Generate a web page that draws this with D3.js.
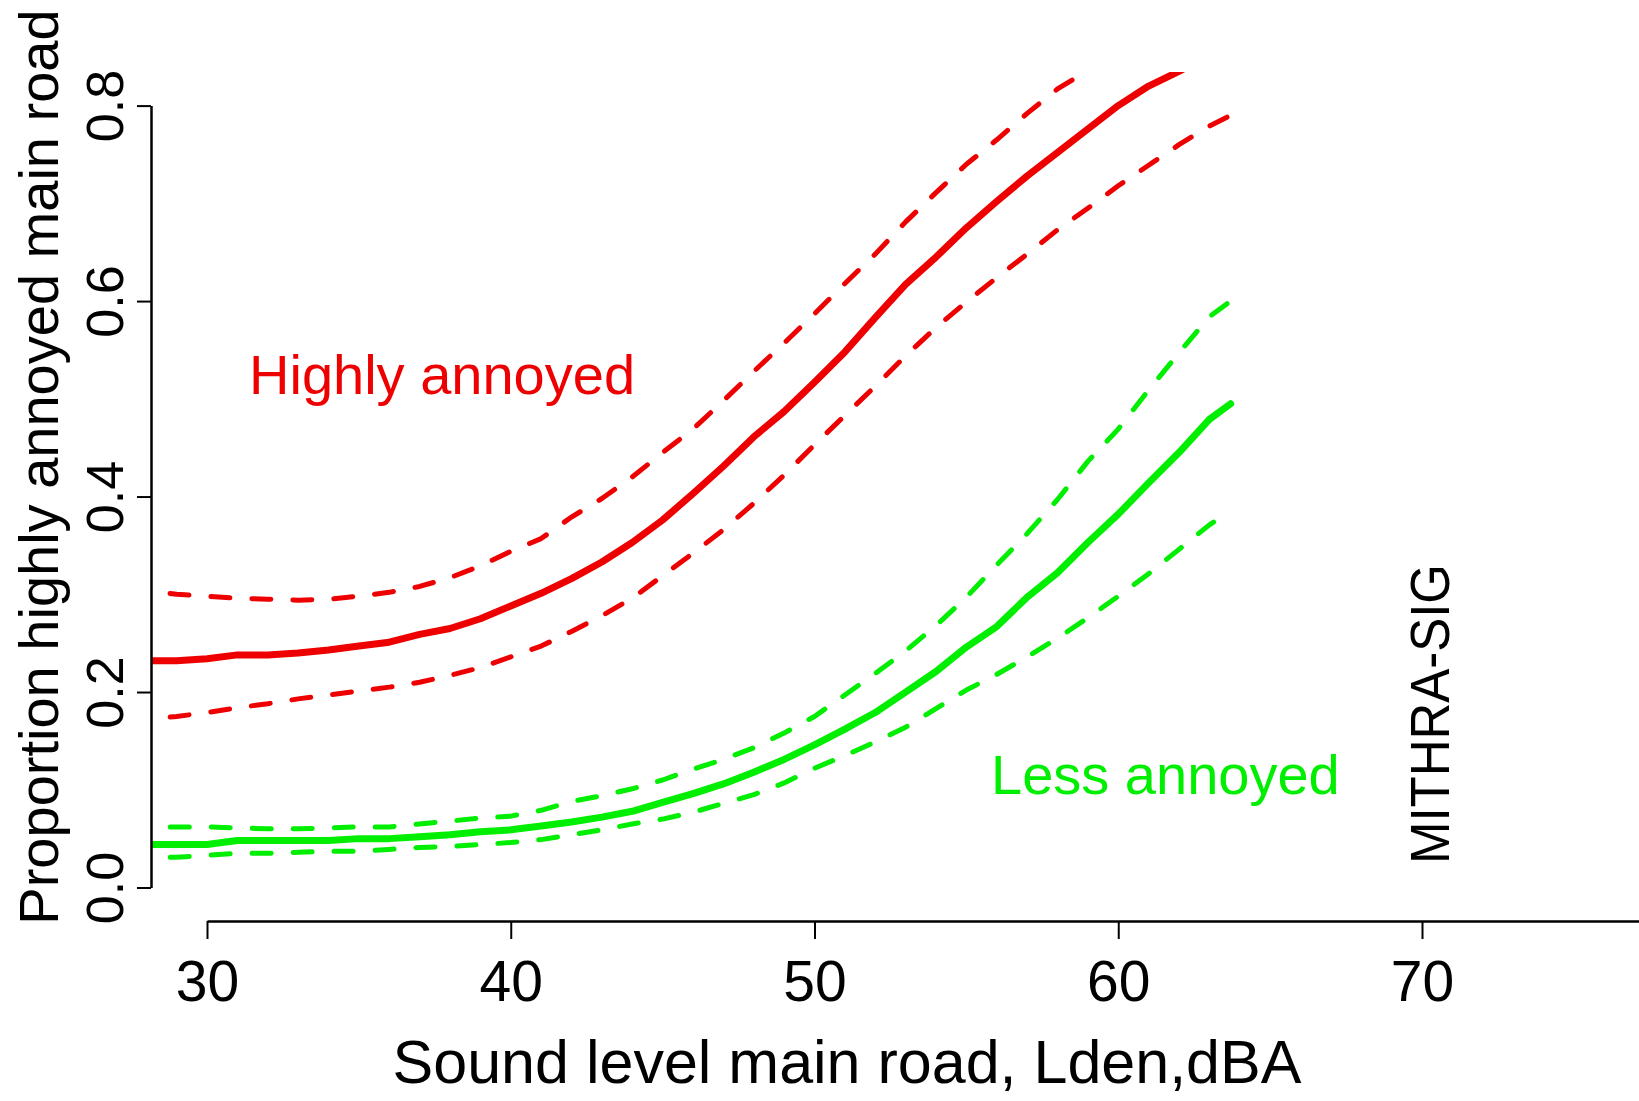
<!DOCTYPE html>
<html>
<head>
<meta charset="utf-8">
<script src="https://cdn.jsdelivr.net/npm/d3@7"></script>
<style>
  body { margin: 0; background: #fff; }
  svg { display: block; font-family: "Liberation Sans", Arial, sans-serif; }
</style>
</head>
<body>
<svg id="chart" width="1639" height="1101"></svg>
<script>
// sound level, dBA
var dBA = [28, 29, 30, 31, 32, 33, 34, 35, 36, 37, 38, 39, 40, 41, 42, 43, 44, 45,
  46, 47, 48, 49, 50, 51, 52, 53, 54, 55, 56, 57, 58, 59, 60, 61, 62, 63, 63.7]

// highly annoyed: estimate and confidence band
var hiMean = [.232, .232, .234, .238, .238, .240, .243, .247, .251, .259, .265, .275, .288, .301, .316, .333, .353, .376,
  .403, .431, .461, .487, .517, .548, .583, .617, .645, .675, .702, .728, .752, .776, .800, .820, .835, .852, null]
var hiUpper = [.304, .300, .298, .296, .295, .294, .295, .298, .302, .308, .317, .329, .344, .357, .379, .398, .420, .445,
  .469, .498, .528, .557, .587, .618, .648, .681, .711, .740, .765, .792, .817, .836, .856, null, null, null, null]
var hiLower = [.172, .175, .179, .184, .188, .193, .197, .201, .205, .210, .217, .225, .236, .247, .262, .278, .296, .319,
  .342, .366, .393, .422, .453, .483, .513, .544, .573, .599, .624, .648, .673, .695, .718, .739, .760, .779, .790]

// less annoyed: estimate and confidence band
var laMean = [.044, .044, .044, .048, .048, .048, .048, .050, .050, .052, .054, .057, .059, .063, .067, .072, .078, .087,
  .096, .106, .118, .131, .146, .162, .179, .200, .221, .246, .267, .297, .322, .353, .382, .414, .445, .479, .495]
var laUpper = [.062, .062, .062, .061, .060, .060, .061, .062, .062, .065, .068, .071, .073, .079, .088, .094, .101, .110,
  .121, .131, .143, .158, .175, .197, .219, .242, .268, .297, .330, .362, .397, .436, .469, .509, .547, .584, .600]
var laLower = [.031, .031, .033, .035, .035, .036, .037, .037, .039, .041, .042, .044, .046, .049, .054, .059, .065, .070,
  .077, .086, .095, .107, .122, .135, .149, .164, .183, .202, .218, .236, .255, .276, .298, .321, .346, .371, .385]

var xTicks = [30, 40, 50, 60, 70]
var yTicks = [0, 0.2, 0.4, 0.6, 0.8]

var red = '#ee0000'
var green = '#00ee00'

var svg = d3.select('#chart')

// x axis runs on past the right edge of the picture
var x = d3.scaleLinear()
  .domain([30, 80])
  .range([207, 207 + 5 * 303.75])

var y = d3.scaleLinear()
  .domain([0, 0.8])
  .range([887.5, 105.6])

// plot region (lines get clipped to it)
svg.append('clipPath').attr('id', 'plotClip')
  .append('rect')
  .attr('x', 151).attr('y', 72)
  .attr('width', 1639 - 151).attr('height', 921 - 72)

var line = d3.line()
  .defined(function (d) { return d[1] != null })
  .x(function (d) { return x(d[0]) })
  .y(function (d) { return y(d[1]) })

var series = [
  { values: hiMean, color: red, dashed: false },
  { values: hiUpper, color: red, dashed: true },
  { values: hiLower, color: red, dashed: true },
  { values: laMean, color: green, dashed: false },
  { values: laUpper, color: green, dashed: true },
  { values: laLower, color: green, dashed: true }
]

svg.append('g').attr('clip-path', 'url(#plotClip)')
  .selectAll('path')
  .data(series)
  .enter().append('path')
    .attr('d', function (s) { return line(dBA.map(function (v, i) { return [v, s.values[i]] })) })
    .attr('fill', 'none')
    .attr('stroke', function (s) { return s.color })
    .attr('stroke-width', function (s) { return s.dashed ? 5 : 7 })
    .attr('stroke-linecap', 'round')
    .attr('stroke-linejoin', 'round')
    .attr('stroke-dasharray', function (s) { return s.dashed ? '19 22' : null })
    .attr('stroke-dashoffset', function (s) { return s.dashed ? 17 : null })

// x axis
var xAxis = svg.append('g')
  .attr('transform', 'translate(0,921)')
  .call(d3.axisBottom(x).tickValues(xTicks).tickSize(18).tickSizeOuter(0).tickFormat(d3.format('d')))
xAxis.select('.domain').attr('stroke-width', 2.5)
xAxis.selectAll('.tick line').attr('stroke-width', 2)
xAxis.selectAll('.tick text')
  .attr('y', 80).attr('dy', 0)
  .attr('font-size', 57)
  .attr('font-family', '"Liberation Sans", Arial, sans-serif')
  .attr('fill', '#000')

// y axis
var yAxis = svg.append('g')
  .attr('transform', 'translate(151,0)')
  .call(d3.axisLeft(y).tickValues(yTicks).tickSize(14).tickSizeOuter(0).tickFormat(d3.format('.1f')))
yAxis.select('.domain').attr('stroke-width', 2.5)
yAxis.selectAll('.tick line').attr('stroke-width', 2)
yAxis.selectAll('.tick text')
  .attr('x', 0).attr('dy', 0)
  .attr('transform', 'translate(-28,0) rotate(-90)')
  .attr('text-anchor', 'middle')
  .attr('font-size', 52)
  .attr('font-family', '"Liberation Sans", Arial, sans-serif')
  .attr('fill', '#000')

// axis titles
svg.append('text')
  .attr('x', 847).attr('y', 1083)
  .attr('text-anchor', 'middle')
  .attr('font-size', 61)
  .text('Sound level main road, Lden,dBA')

svg.append('text')
  .attr('transform', 'translate(58,467) rotate(-90)')
  .attr('text-anchor', 'middle')
  .attr('font-size', 56)
  .text('Proportion highly annoyed main road')

// annotations
svg.append('text')
  .attr('x', 249).attr('y', 394)
  .attr('font-size', 56)
  .attr('fill', red)
  .text('Highly annoyed')

svg.append('text')
  .attr('x', 991).attr('y', 794)
  .attr('font-size', 56)
  .attr('fill', green)
  .text('Less annoyed')

svg.append('text')
  .attr('transform', 'translate(1449,864) rotate(-90) scale(0.91,1)')
  .attr('font-size', 56)
  .text('MITHRA-SIG')
</script>
</body>
</html>
